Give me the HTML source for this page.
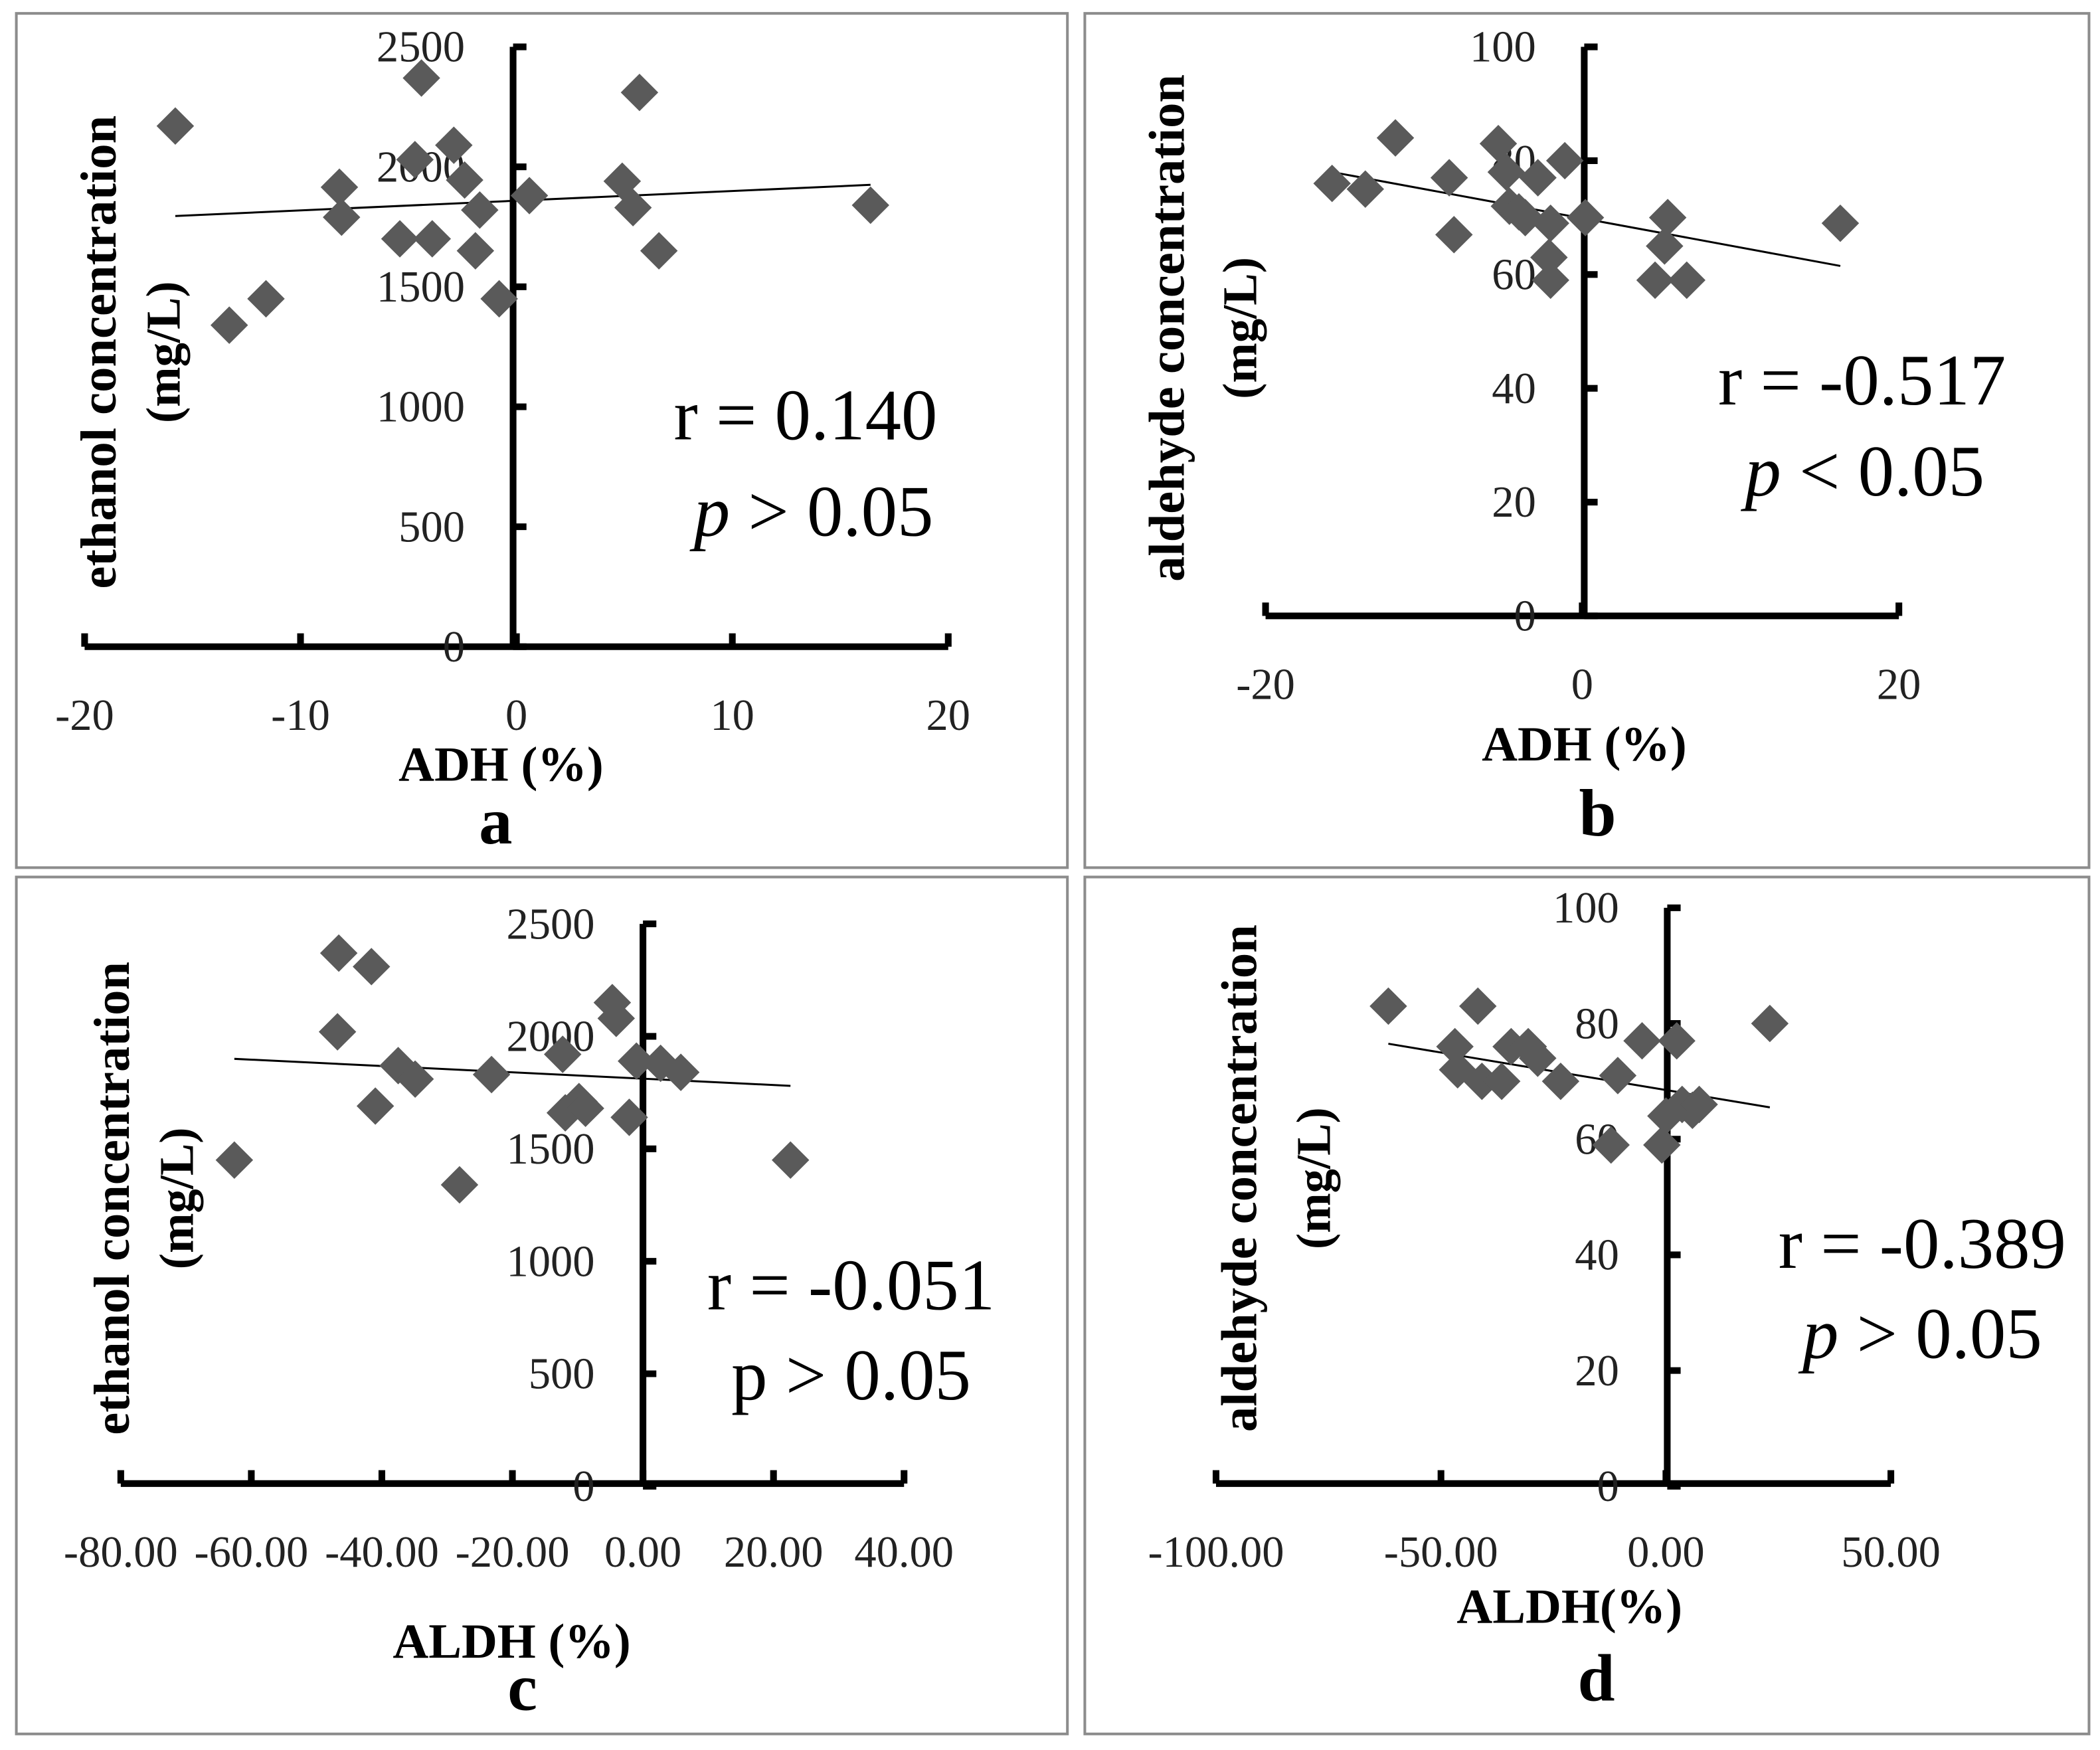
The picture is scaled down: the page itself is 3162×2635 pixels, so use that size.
<!DOCTYPE html>
<html><head><meta charset="utf-8"><style>
html,body{margin:0;padding:0;background:#fff;}
svg{display:block;font-family:"Liberation Serif",serif;}
</style></head><body>
<svg id="fig" width="3162" height="2635" viewBox="0 0 1568 1307" xmlns="http://www.w3.org/2000/svg"></svg>
<script>
// Panel a: ADH vs ethanol
const aX = [-15.8,-13.3,-11.6,-8.2,-8.1,-4.4,-4.7,-5.4,-3.9,-2.9,-2.4,-1.9,-1.7,-0.8,0.6,4.9,5.4,5.7,6.6,16.4];
const aY = [2170,1340,1450,1915,1790,2370,2030,1700,1700,2090,1945,1650,1820,1450,1880,1940,1830,2310,1650,1840];
const aTicksX = ["-20","-10","0","10","20"];
const aTicksY = ["0","500","1000","1500","2000","2500"];
// Panel b: ADH vs aldehyde
const bX = [-15.8,-13.7,-11.8,-8.4,-8.1,-5.3,-4.8,-4.6,-4.0,-3.6,-2.8,-2.1,-2.0,-2.0,-1.1,0.2,4.6,5.2,5.4,6.6,16.3];
const bY = [76,75,84,77,67,83,78,72,71,70,77,63,59,69,80,70,59,65,70,59,69];
const bTicksX = ["-20","0","20"];
const bTicksY = ["0","20","40","60","80","100"];
// Panel c: ALDH vs ethanol
const cX = [-62.6,-46.6,-46.8,-41.6,-41.0,-37.5,-34.9,-28.1,-23.2,-12.3,-11.9,-9.8,-8.8,-4.7,-4.1,-2.1,-1.0,2.7,5.8,22.6];
const cY = [1450,2370,2020,2310,1690,1870,1810,1340,1830,1920,1660,1710,1680,2150,2080,1640,1890,1880,1840,1450];
const cTicksX = ["-80.00","-60.00","-40.00","-20.00","0.00","20.00","40.00"];
const cTicksY = ["0","500","1000","1500","2000","2500"];
// Panel d: ALDH vs aldehyde
const dX = [-61.7,-46.9,-46.3,-41.8,-40.9,-36.5,-34.4,-30.6,-28.5,-23.4,-12.2,-10.7,-5.3,-0.9,0,2.4,3.6,5.9,7.4,23.1];
const dY = [83,76,72,83,70,70,76,76,74,70,59,71,77,59,64,77,66,65,66,80];
const dTicksX = ["-100.00","-50.00","0.00","50.00"];
const dTicksY = ["0","20","40","60","80","100"];

const NS="http://www.w3.org/2000/svg";
const svg=document.getElementById('fig');
function mk(tag,attrs,parent){const e=document.createElementNS(NS,tag);for(const k in attrs)e.setAttribute(k,attrs[k]);(parent||svg).appendChild(e);return e;}
function txt(s,attrs,parent){const e=mk('text',attrs,parent);e.textContent=s;return e;}

const panels=[
 {id:'a',xs:aX,ys:aY,tx:aTicksX,ty:aTicksY,box:[12,10,785,638],x0:63,x1:708,xmin:-20,xmax:20,y0:483,y1:35,ymin:0,ymax:2500,ax:383,ay:483,
  fit:[-15.8,1795,16.4,1925],ylab:["ethanol concentration",86,"(mg/L)",134,263],xlab:["ADH (%)",374,583],letter:["a",370,630],
  r:["r = 0.140",503,328],p:[518,400],pItalic:true},
 {id:'b',xs:bX,ys:bY,tx:bTicksX,ty:bTicksY,box:[810,10,750,638],x0:945,x1:1418,xmin:-20,xmax:20,y0:460,y1:35,ymin:0,ymax:100,ax:1183,ay:460,
  fit:[-15.8,78,16.3,61.5],ylab:["aldehyde concentration",884,"(mg/L)",938,245],xlab:["ADH (%)",1183,568],letter:["b",1193,624],
  r:["r = -0.517",1283,302],p:[1303,370],pItalic:true,pSym:"<"},
 {id:'c',xs:cX,ys:cY,tx:cTicksX,ty:cTicksY,box:[12,655,785,640],x0:90,x1:675,xmin:-80,xmax:40,y0:1110,y1:690,ymin:0,ymax:2500,ax:480,ay:1108,
  fit:[-62.6,1900,22.6,1780],ylab:["ethanol concentration",96,"(mg/L)",144,895],xlab:["ALDH (%)",382,1238],letter:["c",390,1277],
  r:["r = -0.051",528,978],p:[546,1045],pItalic:false},
 {id:'d',xs:dX,ys:dY,tx:dTicksX,ty:dTicksY,box:[810,655,750,640],x0:908,x1:1412,xmin:-100,xmax:50,y0:1110,y1:678,ymin:0,ymax:100,ax:1245,ay:1108,
  fit:[-61.7,76.5,23.1,65.5],ylab:["aldehyde concentration",938,"(mg/L)",993,880],xlab:["ALDH(%)",1172,1212],letter:["d",1192,1270],
  r:["r = -0.389",1328,947],p:[1346,1014],pItalic:true}
];

panels.forEach(P=>{
  const g=mk('g',{});
  
  
  const sx=v=>P.x0+(v-P.xmin)/(P.xmax-P.xmin)*(P.x1-P.x0);
  const sy=v=>P.y0+(v-P.ymin)/(P.ymax-P.ymin)*(P.y1-P.y0);
  const bx=mk('rect',{x:P.box[0],y:P.box[1],width:P.box[2],height:P.box[3],fill:'none',stroke:'#8c8c8c','stroke-width':2},g);
  
  
  const xa=mk('line',{x1:P.x0,y1:P.ay,x2:P.x1,y2:P.ay,stroke:'#000','stroke-width':5},g);
  
  
  const ya=mk('line',{x1:P.ax,y1:P.y1,x2:P.ax,y2:P.y0,stroke:'#000','stroke-width':5},g);
  
  
  P.tx.forEach((t,i)=>{
    const v=P.xmin+i*(P.xmax-P.xmin)/(P.tx.length-1);
    const X=sx(v);
    mk('line',{x1:X,y1:P.ay,x2:X,y2:P.ay-10,stroke:'#000','stroke-width':5},g);
    const e=txt(t,{x:X,y:P.ay+62,'font-size':33,'text-anchor':'middle',fill:'#222'},g);
    
    
  });
  P.ty.forEach((t,i)=>{
    const v=P.ymin+i*(P.ymax-P.ymin)/(P.ty.length-1);
    const Y=sy(v);
    mk('line',{x1:P.ax,y1:Y,x2:P.ax+10,y2:Y,stroke:'#000','stroke-width':5},g);
    const e=txt(t,{x:P.ax-36,y:Y+11,'font-size':33,'text-anchor':'end',fill:'#222'},g);
    
    
  });
  const fl=mk('line',{x1:sx(P.fit[0]),y1:sy(P.fit[1]),x2:sx(P.fit[2]),y2:sy(P.fit[3]),stroke:'#000','stroke-width':1.5},g);
  
  
  P.xs.forEach((xv,i)=>{
    const X=sx(xv),Y=sy(P.ys[i]),s=14;
    const d=mk('polygon',{points:`${X},${Y-s} ${X+s},${Y} ${X},${Y+s} ${X-s},${Y}`,fill:'#5a5a5a'},g);
    
    
  });
  const yl=txt(P.ylab[0],{x:0,y:0,'font-size':38,'font-weight':'bold','text-anchor':'middle',transform:`translate(${P.ylab[1]},${P.ylab[4]}) rotate(-90)`},g);
  
  
  const yu=txt(P.ylab[2],{x:0,y:0,'font-size':36,'font-weight':'bold','text-anchor':'middle',transform:`translate(${P.ylab[3]},${P.ylab[4]}) rotate(-90)`},g);
  
  
  const xl=txt(P.xlab[0],{x:P.xlab[1],y:P.xlab[2],'font-size':37,'font-weight':'bold','text-anchor':'middle'},g);
  
  
  const lt=txt(P.letter[0],{x:P.letter[1],y:P.letter[2],'font-size':50,'font-weight':'bold','text-anchor':'middle'},g);
  
  
  const rt=txt(P.r[0],{x:P.r[1],y:P.r[2],'font-size':54},g);
  
  
  const pt=mk('text',{x:P.p[0],y:P.p[1],'font-size':54},g);
  
  
  const ps=mk('tspan',P.pItalic?{'font-style':'italic'}:{},pt);ps.textContent='p';
  const rest=mk('tspan',{},pt);rest.textContent=' '+(P.pSym||'>')+' 0.05';
});
</script>
</body></html>
